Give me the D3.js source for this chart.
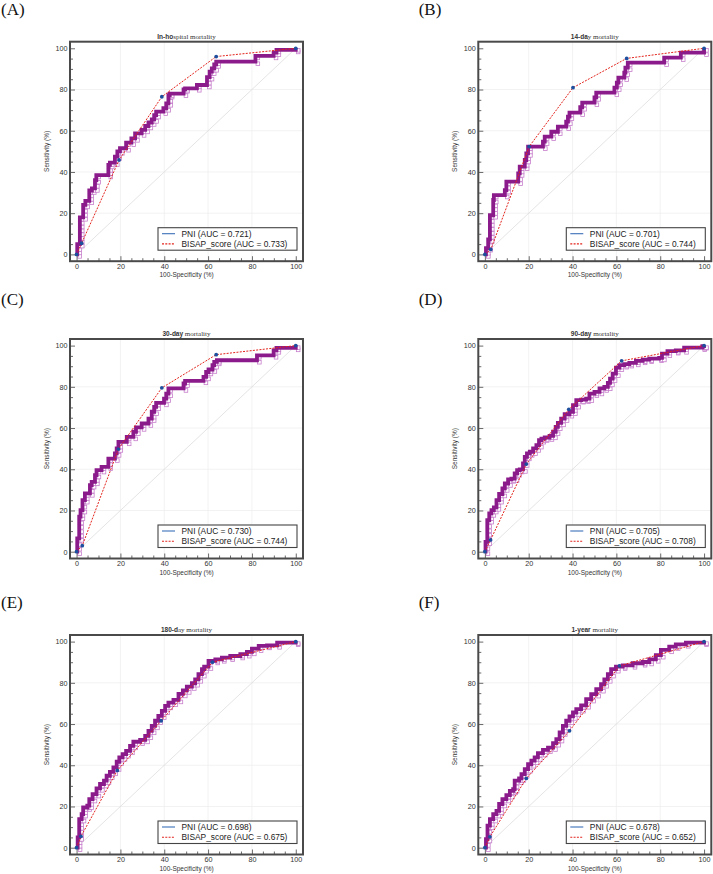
<!DOCTYPE html>
<html>
<head>
<meta charset="utf-8">
<script src="https://cdn.jsdelivr.net/npm/d3@7"></script>
<style>
  body { margin: 0; background: #fff; }
  svg { display: block; }
</style>
</head>
<body>
<script>
// panel texts
const panelLabels = ["(A)", "(B)", "(C)", "(D)", "(E)", "(F)"];
const titleBold = ["In-ho", "14-da", "30-day", "90-day", "180-d", "1-year"];
const titleRest = ["spital mortality", "y mortality", " mortality", " mortality", "ay mortality", " mortality"];
const aucPNI = ["0.721", "0.701", "0.730", "0.705", "0.698", "0.678"];
const aucBISAP = ["0.733", "0.744", "0.744", "0.708", "0.675", "0.652"];
const majorTicks = [0, 20, 40, 60, 80, 100];

// ROC points [100-specificity, sensitivity]
const pniA = [[0,0],[0.3,5],[1.5,18],[3,24],[4,26],[5.8,31],[7,32],[8.4,36],[9,38.5],[14.5,43.4],[15.2,44.5],[17.5,47.4],[18.6,50],[19.8,51.5],[22.6,54.2],[25,56.3],[26.7,58.7],[29.7,60.4],[31.3,62.3],[32.8,64],[34.3,65.5],[35.4,67.6],[36.3,69.3],[39.6,70.9],[40.9,73.3],[41.9,77.3],[42.5,78],[48.8,80.1],[49.5,80.6],[54.9,82.2],[59.5,86],[60.7,88.7],[61.7,90.3],[62.8,92.2],[63.7,93.5],[81.6,96.3],[89.9,97.9],[91.2,99.2],[100,100]];
const pniB = [[0,0],[0.5,3],[1.5,7.3],[2.3,19],[3.8,26.4],[4.1,28.8],[9.1,31.2],[9.8,35.3],[15.2,39.3],[15.9,42.6],[18.2,45.8],[18.9,49],[19.7,52.3],[26.5,54.7],[27.3,57.1],[30.3,59.5],[33.3,62],[37.1,64.4],[37.9,66.8],[38.6,68.8],[43.5,71.4],[44.4,73.6],[50,76.2],[50.8,78.5],[59.1,80.9],[60.2,83.3],[60.9,85.8],[63.6,88.2],[64.1,90.6],[65.2,93],[81.8,95.5],[89.4,97.9],[100,100]];
const pniC = [[0,0],[0.3,6.5],[1.2,17],[1.8,20.2],[2.7,25],[3.8,28.3],[6.1,32.3],[6.9,33.9],[8.4,37.2],[9.1,39.6],[11.4,41.2],[14.5,45.2],[17.5,47.7],[18.3,50.1],[19.1,53.3],[22.9,55.7],[25.9,58.2],[27.1,60.3],[29.7,62.2],[32.8,64.6],[34.3,67.9],[35.4,70.3],[36.3,72.2],[39.9,74.3],[40.9,76.7],[41.9,79.2],[48.8,81.6],[49.5,82.9],[57.9,84.8],[59.1,87.2],[60.2,88.4],[62,90.5],[62.8,92.1],[64,92.9],[82.3,95.3],[89.9,97.7],[91.2,98.9],[100,100]];
const pniD = [[0,0],[0.3,4.8],[1.1,15.3],[2,18.6],[3,20.2],[4.1,21.5],[5.3,25],[6.5,28],[8,30.7],[9.1,33.1],[10.6,35.1],[12.1,35.5],[13.6,38],[14.7,39.6],[15.9,39.9],[17.4,42.8],[18.2,46],[19.2,47.7],[20.5,48.5],[22,50.1],[23.5,51.7],[24.7,54.1],[25.8,54.9],[27.3,55.4],[29.5,56.2],[31.1,58.2],[32.3,60.6],[33.3,62.5],[34.8,64.6],[36.4,66.7],[38.6,67.9],[40.2,71.1],[41.7,73.5],[43.9,73.8],[46.2,74.3],[47.7,76.7],[50,77.5],[52.3,79.2],[54.5,80],[56.1,81.9],[57.1,84],[58.3,86.4],[59.8,89.3],[61.4,90.5],[63.6,91],[65.9,91.6],[68.9,92.6],[72,93.2],[75,93.7],[79.5,94],[80.8,96.1],[83.3,97.3],[87.1,97.7],[90.9,99],[99.2,99.7],[100,100]];
const pniE = [[0,0],[0.5,5],[1.2,13.9],[2.3,16.3],[3,19.5],[4.9,20.4],[5.8,23.6],[7.3,26],[9.1,28.8],[10.7,30.9],[12.5,32.5],[13.7,34.9],[15.2,36.8],[16.8,38.9],[18.3,41.7],[19.5,43.8],[21,45.4],[22.6,47],[24.4,49.4],[25.9,51.4],[29,52.3],[31.3,54.3],[32.8,56.7],[34.3,59.1],[35.8,61.6],[37.3,64],[38.9,66.4],[40.4,68.8],[41.9,70.4],[44.2,71.7],[46.5,74.6],[48.5,76.3],[50.3,78.2],[52.6,79.8],[54.1,81.7],[55.6,84.2],[57.2,86.6],[58.2,87.9],[60.2,90.6],[63.3,91.4],[66.3,92.2],[70.1,93],[74.7,93.9],[77.7,95],[80,96.6],[83.1,97.9],[86.9,98.2],[91.5,99.5],[100,100]];
const pniF = [[0,0],[0.5,4.2],[1.2,10.7],[2.3,13.9],[3.8,16.3],[5.3,17.9],[6.5,21.2],[8,23.6],[9.8,25.5],[11.4,27.6],[12.9,28.4],[13.6,32.5],[15.6,33.6],[16.7,35.7],[18.2,38.1],[19.7,40.5],[21.2,42.2],[22.7,43.8],[24.2,45.9],[26.5,47.5],[28.8,48.6],[31.1,50.7],[32.6,52.7],[34.1,55.9],[35.6,59.1],[37.1,61.6],[38.6,63.7],[40.2,65.6],[41.7,67.2],[43.9,69.1],[46.2,72.1],[48.5,74.5],[50.8,76.9],[53,79.3],[54.5,81.7],[56.1,84.2],[57.6,86.6],[59.8,87.9],[62.9,88.5],[67.4,89.5],[72,90.1],[75,91.4],[78,93.4],[80.3,96],[84.1,97.6],[87.1,98.7],[91.7,99.5],[100,100]];

const bisapA = [[0,0],[2.3,5.4],[19.4,45.8],[38.9,76.5],[63.7,96],[100,100]];
const bisapB = [[0,0],[2.7,2.4],[20.2,52.3],[40.2,80.9],[64.7,95.1],[100,100]];
const bisapC = [[0,0],[2.6,2.9],[19.1,49.8],[38.9,79.5],[63.7,95.6],[100,100]];
const bisapD = [[0,0],[2.6,5.7],[18.9,42.5],[38.3,69.1],[62.4,92.6],[100,100]];
const bisapE = [[0,0],[2,5.5],[18.6,37.5],[38.6,61.6],[62,90],[100,100]];
const bisapF = [[0,0],[2.3,5.3],[18.9,33.6],[38.6,56.7],[61.4,88.2],[100,100]];

const pniData = [pniA, pniB, pniC, pniD, pniE, pniF];
const bisapData = [bisapA, bisapB, bisapC, bisapD, bisapE, bisapF];

// layout
const W = 713, H = 874;
const colLeft = [70, 478.3], rowTop = [41.7, 339, 635];
const labelX = [1, 418.7], labelY = [15, 305, 608];
const frameW = 233, frameH = 219.5;

const purple = "#8b1a8b", lavender = "#c77fcc", red = "#e3241c", blue = "#1d4f9e";
const sans = "'Liberation Sans', Arial, sans-serif";
const serif = "'Liberation Serif', 'Times New Roman', serif";

const svg = d3.select("body").append("svg")
  .attr("width", W).attr("height", H)
  .attr("viewBox", "0 0 " + W + " " + H);
svg.append("rect").attr("width", W).attr("height", H).attr("fill", "#fff");

pniData.forEach(function(pni, i) {
  const col = i % 2, row = Math.floor(i / 2);
  const left = colLeft[col], top = rowTop[row];
  const x = d3.scaleLinear().domain([-3, 103.3]).range([left, left + frameW]);
  const y = d3.scaleLinear().domain([-3.3, 103.2]).range([top + frameH, top]);
  const g = svg.append("g");

  // panel letter
  svg.append("text")
    .attr("x", labelX[col]).attr("y", labelY[row])
    .attr("font-family", serif).attr("font-size", 17).attr("fill", "#111")
    .text(panelLabels[i]);

  // title, half bold sans half serif
  const t = g.append("text")
    .attr("x", left + frameW / 2).attr("y", top - 3)
    .attr("text-anchor", "middle").attr("fill", "#333");
  t.append("tspan").attr("font-family", sans).attr("font-weight", "bold").attr("font-size", 6.5).text(titleBold[i]);
  t.append("tspan").attr("font-family", serif).attr("font-size", 7).text(titleRest[i]);

  // grid
  const inner = [20, 40, 60, 80];
  g.selectAll(".gx").data(inner).enter().append("line")
    .attr("x1", d => x(d)).attr("x2", d => x(d))
    .attr("y1", top).attr("y2", top + frameH)
    .attr("stroke", "#ececec").attr("stroke-width", 0.7);
  g.selectAll(".gy").data(inner).enter().append("line")
    .attr("y1", d => y(d)).attr("y2", d => y(d))
    .attr("x1", left).attr("x2", left + frameW)
    .attr("stroke", "#ececec").attr("stroke-width", 0.7);

  // reference diagonal
  g.append("line")
    .attr("x1", x(0)).attr("y1", y(0)).attr("x2", x(100)).attr("y2", y(100))
    .attr("stroke", "#d9d9d9").attr("stroke-width", 0.7);

  // hollow square shadow of PNI points, along the vertical runs of the steps
  const boxes = [];
  for (let k = 1; k < pni.length; k++) {
    const px = x(pni[k][0]);
    const y0 = y(pni[k - 1][1]), y1 = y(pni[k][1]);
    const n = Math.max(1, Math.round((y0 - y1) / 4));
    for (let j = 0; j <= n; j++) boxes.push([px, y0 + (y1 - y0) * j / n]);
  }
  g.selectAll(".box").data(boxes).enter().append("rect")
    .attr("x", d => d[0] + 0.6).attr("y", d => d[1] + 0.2)
    .attr("width", 3.6).attr("height", 3.6)
    .attr("fill", "#fff").attr("stroke", lavender).attr("stroke-width", 0.8);

  // PNI step curve
  const step = d3.line().x(d => x(d[0])).y(d => y(d[1])).curve(d3.curveStepAfter);
  g.append("path").datum(pni).attr("d", step)
    .attr("fill", "none").attr("stroke", purple).attr("stroke-width", 3.8)
    .attr("stroke-linejoin", "miter");

  // BISAP dashed line with dots
  const lin = d3.line().x(d => x(d[0])).y(d => y(d[1]));
  g.append("path").datum(bisapData[i]).attr("d", lin)
    .attr("fill", "none").attr("stroke", red).attr("stroke-width", 1)
    .attr("stroke-dasharray", "2,1.3");
  g.selectAll(".dot").data(bisapData[i]).enter().append("circle")
    .attr("cx", d => x(d[0])).attr("cy", d => y(d[1])).attr("r", 1.9)
    .attr("fill", blue);

  // axes with inward ticks
  const yAxis = g.append("g").attr("transform", "translate(" + left + ",0)")
    .call(d3.axisLeft(y).tickValues(majorTicks).tickSize(-5).tickPadding(2.5));
  const xAxis = g.append("g").attr("transform", "translate(0," + (top + frameH) + ")")
    .call(d3.axisBottom(x).tickValues(majorTicks).tickSize(-5).tickPadding(2.5));
  const minor = d3.range(5, 100, 5).filter(d => d % 20 !== 0);
  const yMin = g.append("g").attr("transform", "translate(" + left + ",0)")
    .call(d3.axisLeft(y).tickValues(minor).tickSize(-3).tickFormat(""));
  const xMin = g.append("g").attr("transform", "translate(0," + (top + frameH) + ")")
    .call(d3.axisBottom(x).tickValues(minor).tickSize(-3).tickFormat(""));
  [yAxis, xAxis, yMin, xMin].forEach(function(a) {
    a.select(".domain").remove();
    a.selectAll("line").attr("stroke", "#444").attr("stroke-width", 0.8);
    a.selectAll("text").attr("font-family", sans).attr("font-size", 7.2).attr("fill", "#333");
  });

  // frame
  g.append("rect")
    .attr("x", left).attr("y", top).attr("width", frameW).attr("height", frameH)
    .attr("fill", "none").attr("stroke", "#4a4a4a").attr("stroke-width", 2);

  // axis titles
  g.append("text")
    .attr("x", left + frameW / 2).attr("y", top + frameH + 16)
    .attr("text-anchor", "middle").attr("font-family", sans).attr("font-size", 6.5).attr("fill", "#333")
    .text("100-Specificity (%)");
  g.append("text")
    .attr("transform", "translate(" + (left - 21) + "," + (y(50)) + ") rotate(-90)")
    .attr("text-anchor", "middle").attr("font-family", sans).attr("font-size", 6.5).attr("fill", "#333")
    .text("Sensitivity (%)");

  // legend
  const lw = 139, lh = 22.5;
  const lx = left + frameW - 6 - lw, ly = top + frameH - 11 - lh;
  const leg = g.append("g").attr("transform", "translate(" + lx + "," + ly + ")");
  leg.append("rect").attr("width", lw).attr("height", lh)
    .attr("fill", "#fff").attr("stroke", "#444").attr("stroke-width", 1.1);
  const items = [
    { label: "PNI (AUC = " + aucPNI[i] + ")", color: "#3a6fb8", dash: null },
    { label: "BISAP_score (AUC = " + aucBISAP[i] + ")", color: red, dash: "2,1.3" }
  ];
  items.forEach(function(it, k) {
    const cy = 6 + k * 10.2;
    leg.append("line").attr("x1", 4).attr("x2", 17).attr("y1", cy).attr("y2", cy)
      .attr("stroke", it.color).attr("stroke-width", 1.1)
      .attr("stroke-dasharray", it.dash);
    leg.append("text").attr("x", 23.5).attr("y", cy + 3)
      .attr("font-family", sans).attr("font-size", 8.4).attr("fill", "#222")
      .text(it.label);
  });
});
</script>
</body>
</html>
